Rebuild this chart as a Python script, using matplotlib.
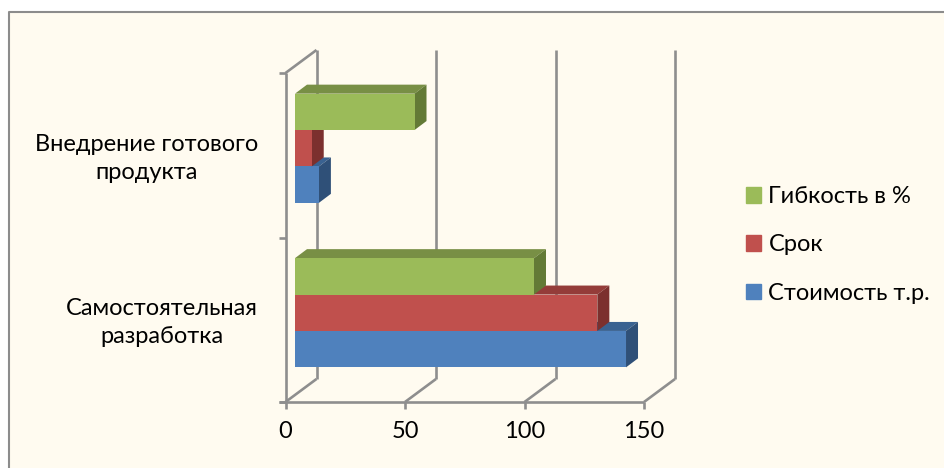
import matplotlib
matplotlib.use('Agg')
import matplotlib.pyplot as plt
from matplotlib.patches import Rectangle
from matplotlib.lines import Line2D

plt.rcParams['font.family'] = ['Lato', 'Open Sans', 'DejaVu Sans']

# Data
categories = ['Самостоятельная\nразработка', 'Внедрение готового\nпродукта']
series_names = ['Стоимость т.р.', 'Срок', 'Гибкость в %']
cost = [138.5, 10]
term = [126.5, 7]
flex = [100, 50]
x_ticks = [0, 50, 100, 150]

front = ['#4F81BD', '#C0504D', '#9BBB59']
top = ['#3A6291', '#943C39', '#788F45']
side = ['#2F5078', '#7C302E', '#637A36']
grid_col = '#8E8E8E'

W, H = 944, 468
fig = plt.figure(figsize=(W / 100, H / 100), dpi=100, facecolor='white')

# Chart background, frame only on top and left (rest is cropped)
fig.add_artist(Rectangle((8 / W, 0), (W - 8) / W, (H - 11) / H, transform=fig.transFigure,
                         facecolor='#FFFBF0', edgecolor='none', zorder=-2))
fig.add_artist(Line2D([8.5 / W, 8.5 / W, 1], [0, 1 - 11.5 / H, 1 - 11.5 / H], color='#8C8C8C',
                      linewidth=1.5, zorder=-1))

# Axes is the front plane of the 3D box
left, right, ytop, ybot = 285.5, 644, 73, 402
ax = fig.add_axes([left / W, 1 - ybot / H, (right - left) / W, (ybot - ytop) / H])
ax.set_xlim(0, 150)
ax.set_ylim(0, 2)
ax.axis('off')

px = 150 / (right - left)
py = 2 / (ybot - ytop)
depth_x, depth_y = 31 * px, 23 * py    # back wall offset
start_x, start_y = 9.5 * px, 7 * py    # bars stand a bit behind the front plane
bar_dx, bar_dy = 12 * px, 9 * py       # bar depth
bar_h = 36.4 * py

line = dict(color=grid_col, linewidth=1.9, clip_on=False, solid_capstyle='butt')

# Walls
for t in x_ticks:
    ax.plot([t + depth_x, t + depth_x], [depth_y, 2 + depth_y], **line)
    ax.plot([t, t + depth_x], [0, depth_y], **line)
    ax.plot([t, t], [0, -7 * py], **line)
ax.plot([0, 0], [0, 2], **line)
ax.plot([0, depth_x], [2, 2 + depth_y], **line)
ax.plot([-7 * px, 150], [0, 0], **line)
for c in range(3):
    ax.plot([-7 * px, 0], [c, c], **line)

# Bars
for s, values in enumerate([cost, term, flex]):
    for c, v in enumerate(values):
        x0 = start_x
        x1 = start_x + v
        y0 = c + 0.5 + start_y + (s - 1.5) * bar_h
        y1 = y0 + bar_h
        ax.fill([x0, x0 + bar_dx, x1 + bar_dx, x1], [y1, y1 + bar_dy, y1 + bar_dy, y1],
                color=top[s], linewidth=0, clip_on=False, zorder=3 + s)
        ax.fill([x1, x1 + bar_dx, x1 + bar_dx, x1], [y0, y0 + bar_dy, y1 + bar_dy, y1],
                color=side[s], linewidth=0, clip_on=False, zorder=3 + s)
        ax.fill([x0, x1, x1, x0], [y0, y0, y1, y1],
                color=front[s], linewidth=0, clip_on=False, zorder=3 + s)

# Tick labels
for t in x_ticks:
    ax.text(t, -36 * py, str(t), ha='center', va='baseline', fontsize=17, color='black')
label_shift = [-124, -139]
for c, name in enumerate(categories):
    ax.text(label_shift[c] * px, c + 0.5 - 3 * py, name, ha='center', va='center', fontsize=17,
            color='black', linespacing=1.43, clip_on=False)

# Legend
handles = [Rectangle((0, 0), 1, 1, color=c) for c in front]
leg = fig.legend(handles[::-1], series_names[::-1], loc='center left',
                 bbox_to_anchor=(725 / W, 1 - 245 / H), frameon=False, fontsize=17,
                 handlelength=0.64, handleheight=0.64, handletextpad=0.3, labelspacing=1.16)

fig.savefig('out.png', dpi=100, facecolor='white')
